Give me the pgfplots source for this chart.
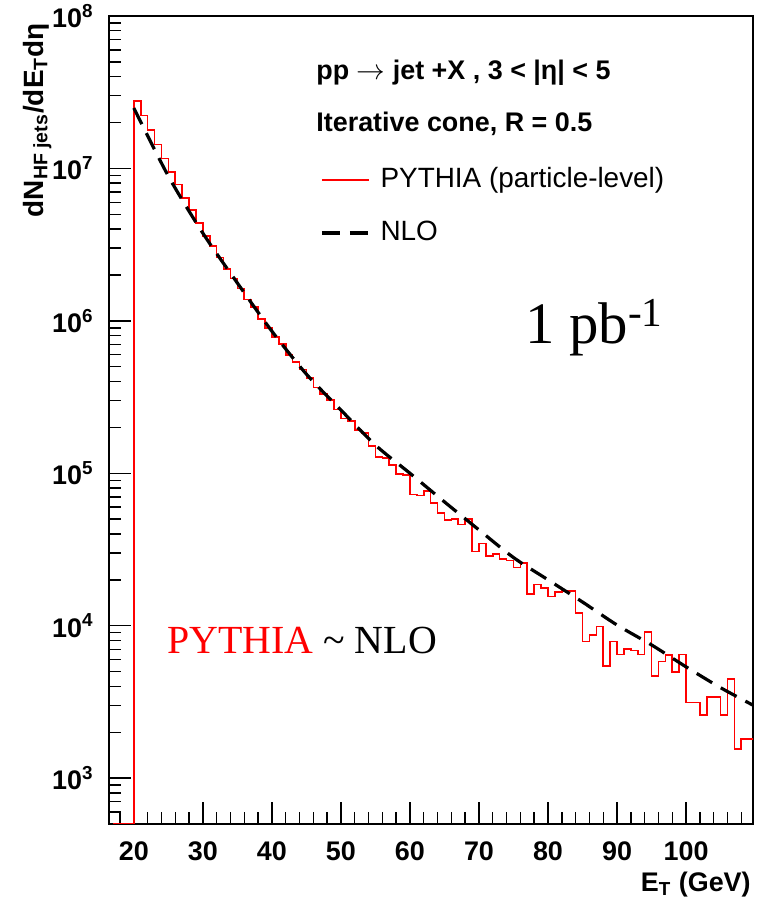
\documentclass[border=0pt]{standalone}
\usepackage{pgfplots}
\pgfplotsset{compat=1.18}
\usepackage{fontspec}
\setmainfont{Liberation Sans}
\newfontfamily\tnr{Liberation Serif}
\definecolor{rootred}{RGB}{255,0,0}
\begin{document}
\begin{tikzpicture}
\begin{axis}[
  at={(0,0)}, anchor=south west,
  scale only axis, width=322bp, height=404bp,
  xmin=16.4, xmax=109.7, ymin=500, ymax=1e8,
  ymode=log,
  axis line style={line width=0.8bp, black},
  tick style={line width=0.7bp, black},
  tick align=inside, tick pos=left,
  major tick length=11bp, minor tick length=6bp,
  xtick={20,30,...,100}, xticklabels={20,30,40,50,60,70,80,90,100},
  minor xtick={18,20,...,108},
  ytick={1e3,1e4,1e5,1e6,1e7,1e8},
  yticklabels={10\textsuperscript{3},10\textsuperscript{4},10\textsuperscript{5},10\textsuperscript{6},10\textsuperscript{7},10\textsuperscript{8}},
  minor ytick={500,600,700,800,900,2000,3000,4000,5000,6000,7000,8000,9000,2e4,3e4,4e4,5e4,6e4,7e4,8e4,9e4,2e5,3e5,4e5,5e5,6e5,7e5,8e5,9e5,2e6,3e6,4e6,5e6,6e6,7e6,8e6,9e6,2e7,3e7,4e7,5e7,6e7,7e7,8e7,9e7},
  ticklabel style={font=\bfseries\fontsize{13.5}{15}\selectfont},
  xticklabel style={inner sep=0pt, yshift=-8.5bp},
  yticklabel style={inner sep=0pt, xshift=-7.5bp},
  legend style={at={(axis description cs:0.3276,0.7642)}, anchor=west, draw=none, fill=none,
    inner sep=0pt, row sep=14.5bp, column sep=5bp,
    nodes={inner sep=0pt, text height=9.5bp, text depth=2.5bp},
    font=\fontsize{14}{16}\selectfont},
  legend cell align=left,
  legend image code/.code={\draw[#1] (0bp,0bp) -- (23.5bp,0bp);},
]
\addplot[const plot, rootred, line width=0.8bp] coordinates {
(17,500) (20,2.76e7) (21,2.23e7) (22,1.78e7) (23,1.434e7) (24,1.161e7) (25,9.48e6) (26,7.84e6) (27,6.41e6) (28,5.32e6) (29,4.39e6)
(30,3.61e6) (31,3.09e6) (32,2.60e6) (33,2.18e6) (34,1.897e6) (35,1.632e6) (36,1.381e6) (37,1.235e6) (38,1.026e6) (39,9.0e5)
(40,7.86e5) (41,7.04e5) (42,5.96e5) (43,5.38e5) (44,4.80e5) (45,4.23e5) (46,3.66e5) (47,3.31e5) (48,3.02e5) (49,2.62e5)
(50,2.29e5) (51,2.21e5) (52,1.92e5) (53,1.84e5) (54,1.515e5) (55,1.283e5) (56,1.264e5) (57,1.132e5) (58,9.88e4) (59,9.73e4)
(60,7.27e4) (61,7.16e4) (62,7.68e4) (63,6.41e4) (64,5.51e4) (65,4.93e4) (66,4.99e4) (67,4.62e4) (68,4.99e4) (69,3.06e4)
(70,3.47e4) (71,2.86e4) (72,2.95e4) (73,2.73e4) (74,2.67e4) (75,2.41e4) (76,2.57e4) (77,1.607e4) (78,1.868e4) (79,1.775e4)
(80,1.55e4) (81,1.671e4) (82,1.696e4) (83,1.696e4) (84,1.206e4) (85,7.86e3) (86,8.69e3) (87,9.88e3) (88,5.44e3) (89,7.86e3)
(90,6.49e3) (91,7.04e3) (92,6.86e3) (93,6.49e3) (94,9.13e3) (95,4.68e3) (96,5.81e3) (97,6.43e3) (98,4.95e3) (99,6.49e3)
(100,3.13e3) (101,3.13e3) (102,2.60e3) (103,3.42e3) (104,3.42e3) (105,2.60e3) (106,4.45e3) (107,1.554e3) (108,1.807e3) (109,1.807e3)
(110,1.807e3)
};
\addlegendentry{PYTHIA (particle-level)}
\addplot[smooth, black, line width=1.6bp, dash pattern=on 9bp off 5bp] coordinates {
(20,2.49e7) (25,8.9e6) (30,3.76e6) (35,1.77e6) (40,8.55e5) (45,4.47e5) (50,2.60e5) (55,1.53e5) (60,1.0e5)
(65,6.49e4) (70,4.25e4) (75,2.80e4) (80,2.0e4) (85,1.43e4) (90,1.01e4) (95,7.48e3) (100,5.37e3) (105,3.92e3) (110,2.96e3)
};
\addlegendentry{NLO}
\end{axis}
\node[inner sep=0pt, anchor=base west, font=\bfseries\fontsize{13.5}{16}\selectfont] at (103.5bp,372bp) {pp $\rightarrow$ jet +X , 3 < |η| < 5};
\node[inner sep=0pt, anchor=base west, font=\bfseries\fontsize{13.5}{16}\selectfont] at (103.5bp,346bp) {Iterative cone, R = 0.5};
\node[inner sep=0pt, anchor=base west, font=\tnr\fontsize{29.5}{32}\selectfont] at (208bp,240bp) {1 pb\textsuperscript{-1}};
\node[inner sep=0pt, anchor=base west, font=\tnr\fontsize{20}{24}\selectfont] at (29bp,85bp) {\textcolor{rootred}{PYTHIA} \textasciitilde{} NLO};
\node[inner sep=0pt, anchor=base east, font=\bfseries\fontsize{13.5}{15}\selectfont] at (321bp,-33.5bp) {E\textsubscript{T} (GeV)};
\node[inner sep=0pt, rotate=90, anchor=base east, font=\bfseries\fontsize{14}{16}\selectfont] at (-33bp,400.5bp) {dN\textsubscript{HF jets}/dE\textsubscript{T}dη};
\pgfresetboundingbox
\path (-54.5bp,-37.5bp) rectangle (326.5bp,412bp);
\end{tikzpicture}
\end{document}
